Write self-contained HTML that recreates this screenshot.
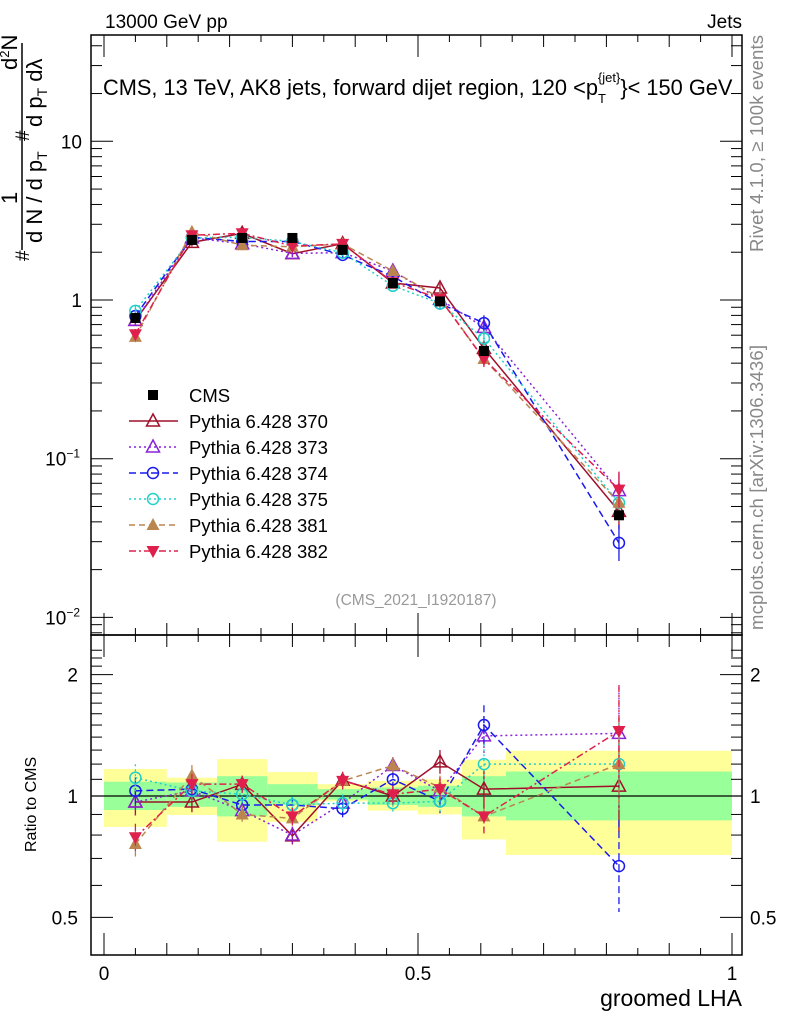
<!DOCTYPE html>
<html><head><meta charset="utf-8"><style>
body{margin:0;background:#fff}
svg text{font-family:"Liberation Sans",sans-serif}
</style></head><body>
<svg id="c" width="786" height="1024" xmlns="http://www.w3.org/2000/svg">
<rect width="786" height="1024" fill="#fff"/>
<g id="bands"></g>
<g id="axes"></g>
<g id="series"></g>
<text x="105" y="28" font-size="19">13000 GeV pp</text>
<text x="742" y="28" font-size="19" text-anchor="end">Jets</text>
<text x="103" y="95" font-size="21.8">CMS, 13 TeV, AK8 jets, forward dijet region, 120 &lt;p<tspan font-size="13" dy="8">T</tspan><tspan font-size="13" dx="-8" dy="-21">{jet}</tspan><tspan dy="13">}&lt; 150 GeV</tspan></text>
<text x="416" y="605" font-size="15.5" fill="#999" text-anchor="middle">(CMS_2021_I1920187)</text>
<text transform="translate(763,252) rotate(-90)" font-size="18.5" fill="#888" textLength="217">Rivet 4.1.0, ≥ 100k events</text>
<text transform="translate(763,630) rotate(-90)" font-size="18.5" fill="#888" textLength="285">mcplots.cern.ch [arXiv:1306.3436]</text>
<text transform="translate(36,852) rotate(-90)" font-size="16">Ratio to CMS</text>
<text x="742" y="1006" font-size="23" text-anchor="end">groomed LHA</text>
<g transform="rotate(-90)" font-size="22">
<line x1="-250" y1="22" x2="-43" y2="22" stroke="#000" stroke-width="1.5"/>
<text x="-261" y="29" font-size="19">#</text>
<text x="-204" y="17">1</text>
<text x="-243" y="42">d N / d p<tspan font-size="14" dy="5">T</tspan></text>
<text x="-141" y="29" font-size="19">#</text>
<text x="-70" y="17">d<tspan font-size="13" dy="-8">2</tspan><tspan dy="8">N</tspan></text>
<text x="-127" y="42">d p<tspan font-size="14" dy="5">T</tspan><tspan dy="-5"> dλ</tspan></text>
</g>
<g id="legend"></g>
</svg>
<script>
const edges=[0,0.1,0.18,0.26,0.34,0.42,0.5,0.57,0.64,1];
const xs=[0.05,0.14,0.22,0.30,0.38,0.46,0.535,0.605,0.82];
const cms=[0.77,2.39,2.46,2.46,2.07,1.28,0.98,0.477,0.044];
const yelHi=[1.167,1.11,1.235,1.147,1.07,1.09,1.10,1.23,1.295];
const yelLo=[0.838,0.897,0.77,0.863,0.97,0.92,0.90,0.78,0.714];
const grnHi=[1.085,1.08,1.12,1.07,1.04,1.05,1.06,1.12,1.15];
const grnLo=[0.923,0.94,0.89,0.95,0.98,0.95,0.94,0.89,0.87];
const r370=[0.966,0.966,1.069,0.796,1.094,1.0,1.215,1.04,1.058];
const r373=[0.966,1.03,0.92,0.80,0.96,1.19,1.03,1.41,1.43];
const r374=[1.03,1.04,0.95,0.95,0.93,1.10,0.97,1.50,0.67];
const r375=[1.11,1.03,1.01,0.95,0.96,0.96,0.97,1.20,1.20];
const r381=[0.76,1.125,0.90,0.88,1.09,1.19,1.05,0.89,1.20];
const r382=[0.79,1.07,1.07,0.89,1.09,1.01,1.04,0.89,1.45];
const relErr=[0.08,0.06,0.05,0.05,0.05,0.05,0.07,0.12,0.3];
const NS="http://www.w3.org/2000/svg";
const X=v=>104+628*v;
const YM=v=>300-158.7*Math.log10(v);
const YR=r=>796-403*Math.log10(r);
function mk(tag,attrs,parent){const e=document.createElementNS(NS,tag);for(const k in attrs)e.setAttribute(k,attrs[k]);parent.appendChild(e);return e;}
const bands=document.getElementById('bands');
for(let i=0;i<9;i++){
 const y=mk('rect',{x:X(edges[i]),y:YR(yelHi[i]),width:X(edges[i+1])-X(edges[i]),height:YR(yelLo[i])-YR(yelHi[i]),fill:'#ffff99'},bands);
 
 
 const g=mk('rect',{x:X(edges[i]),y:YR(grnHi[i]),width:X(edges[i+1])-X(edges[i]),height:YR(grnLo[i])-YR(grnHi[i]),fill:'#99ff99'},bands);
 
 
}
const ax=document.getElementById('axes');
mk('rect',{x:91,y:35,width:651,height:600,fill:'none',stroke:'#000','stroke-width':1.5},ax);
mk('rect',{x:91,y:635,width:651,height:320,fill:'none',stroke:'#000','stroke-width':1.5},ax);
mk('line',{x1:91,x2:742,y1:796,y2:796,stroke:'#000','stroke-width':1.3},ax);
for(let d=-3;d<=1;d++){for(let m=1;m<10;m++){const v=m*Math.pow(10,d);const y=YM(v);if(y<35||y>635)continue;const L=m==1?22:11;
 mk('line',{x1:91,x2:91+L,y1:y,y2:y,stroke:'#000'},ax);mk('line',{x1:742,x2:742-L,y1:y,y2:y,stroke:'#000'},ax);}}
const mlab=[[10,'10'],[1,'1'],[0.1,'10<tspan font-size="12" dy="-8">−1</tspan>'],[0.01,'10<tspan font-size="12" dy="-8">−2</tspan>']];
mlab.forEach(([v,t])=>{const e=mk('text',{x:v<1?80:82,y:YM(v)+7,'font-size':19,'text-anchor':'end'},ax);e.innerHTML=t;
 
 });
for(let k=5;k<=23;k++){const r=k/10;const y=YR(r);if(y<635)continue;const maj=(k==5||k==10||k==20);const L=maj?22:11;
 mk('line',{x1:91,x2:91+L,y1:y,y2:y,stroke:'#000'},ax);mk('line',{x1:742,x2:742-L,y1:y,y2:y,stroke:'#000'},ax);}
[[2,'2'],[1,'1'],[0.5,'0.5']].forEach(([r,t])=>{
 const a=mk('text',{x:78,y:YR(r)+7,'font-size':19,'text-anchor':'end'},ax);a.textContent=t;
 
 
 const b=mk('text',{x:750,y:YR(r)+7,'font-size':19},ax);b.textContent=t;
 
 });
for(let k=0;k<=20;k++){const v=k/20;const x=X(v);const L=(k%10==0)?22:(k%2==0?12:7);
 [[35,1],[635,1],[635,-1],[955,-1]].forEach(([y0,s])=>mk('line',{x1:x,x2:x,y1:y0,y2:y0+s*L,stroke:'#000'},ax));}
[[0,'0'],[0.5,'0.5'],[1,'1']].forEach(([v,t])=>{const e=mk('text',{x:X(v),y:980,'font-size':19,'text-anchor':'middle'},ax);e.textContent=t;
 
 });
const series=[
 {n:'Pythia 6.428 370',r:r370,c:'#a0102a',d:'',m:'tri-open'},
 {n:'Pythia 6.428 373',r:r373,c:'#8a22d8',d:'2,3',m:'tri-open'},
 {n:'Pythia 6.428 374',r:r374,c:'#1a1aee',d:'7,4',m:'circ-open'},
 {n:'Pythia 6.428 375',r:r375,c:'#20d0c8',d:'2,3',m:'circ-open'},
 {n:'Pythia 6.428 381',r:r381,c:'#bb8550',d:'6,4',m:'tri-fill'},
 {n:'Pythia 6.428 382',r:r382,c:'#e0204c',d:'7,3,2,3',m:'tri-down'}];
const sg=document.getElementById('series');
function marker(type,x,y,c,g){
 if(type=='sq')return mk('rect',{x:x-5,y:y-5,width:10,height:10,fill:'#000'},g);
 if(type=='circ-open')return mk('circle',{cx:x,cy:y,r:5.5,fill:'none',stroke:c,'stroke-width':1.5},g);
 if(type=='tri-open')return mk('polygon',{points:`${x},${y-7} ${x-6.5},${y+5} ${x+6.5},${y+5}`,fill:'none',stroke:c,'stroke-width':1.5},g);
 if(type=='tri-fill')return mk('polygon',{points:`${x},${y-7} ${x-6.5},${y+5} ${x+6.5},${y+5}`,fill:c},g);
 return mk('polygon',{points:`${x},${y+7} ${x-6.5},${y-5} ${x+6.5},${y-5}`,fill:c},g);
}
series.forEach((s,si)=>{
 const g=mk('g',{},sg);
 
 
 const mp=xs.map((x,i)=>[X(x),YM(cms[i]*s.r[i])]);
 const rp=xs.map((x,i)=>[X(x),YR(s.r[i])]);
 [mp,rp].forEach(pts=>mk('polyline',{points:pts.map(p=>p.join(',')).join(' '),fill:'none',stroke:s.c,'stroke-width':1.5,'stroke-dasharray':s.d},g));
 xs.forEach((x,i)=>{
  const v=s.r[i],e=relErr[i];
  mk('line',{x1:X(x),x2:X(x),y1:YR(v*(1+e)),y2:YR(v/(1+e)),stroke:s.c,'stroke-width':1.3,'stroke-dasharray':s.d},g);
  const mv=cms[i]*v;
  mk('line',{x1:X(x),x2:X(x),y1:YM(mv*(1+e)),y2:YM(mv/(1+e)),stroke:s.c,'stroke-width':1.3},g);
  const p=marker(s.m,X(x),YM(mv),s.c,g);
  
  
  const q=marker(s.m,X(x),YR(v),s.c,g);
  
  
 });
});
const cg=mk('g',{},sg);


xs.forEach((x,i)=>{const p=marker('sq',X(x),YM(cms[i]),'#000',cg);
 
 });
const lg=document.getElementById('legend');
const items=[{n:'CMS',m:'sq',c:'#000',d:'',line:false}].concat(series.map(s=>({n:s.n,m:s.m,c:s.c,d:s.d,line:true})));
items.forEach((it,i)=>{const y=395+i*26;
 const g=mk('g',{},lg);
 
 
 if(it.line)mk('line',{x1:129,x2:178,y1:y,y2:y,stroke:it.c,'stroke-width':1.5,'stroke-dasharray':it.d},g);
 marker(it.m,153,y,it.c,g);
 const t=mk('text',{x:189,y:y+7,'font-size':18.5},g);t.textContent=it.n;});
</script>
</body></html>
